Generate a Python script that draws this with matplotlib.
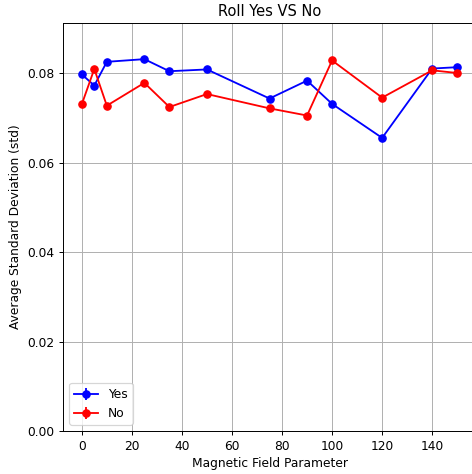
import matplotlib
matplotlib.use('Agg')
import matplotlib.pyplot as plt

# magnetic field parameter values
field = [0, 5, 10, 25, 35, 50, 75, 90, 100, 120, 140, 150]
# average std of roll, with and without
yes_std = [0.0797, 0.0772, 0.0825, 0.0831, 0.0804, 0.0808, 0.0743, 0.0783, 0.0731, 0.0655, 0.0810, 0.0813]
no_std = [0.0730, 0.0809, 0.0727, 0.0778, 0.0724, 0.0753, 0.0721, 0.0705, 0.0828, 0.0745, 0.0806, 0.0800]
yes_err = [0] * len(field)
no_err = [0] * len(field)

dpi = 88
fig = plt.figure(figsize=(472 / dpi, 474 / dpi), dpi=dpi)
ax = fig.add_axes([0.1335, 0.0907, 0.875, 0.861])

ax.errorbar(field, yes_std, yerr=yes_err, fmt='-o', color='blue', label='Yes')
ax.errorbar(field, no_std, yerr=no_err, fmt='-o', color='red', label='No')

ax.set_xlim(-7.5, 157.5)
ax.set_ylim(0, 0.0912)
ax.set_title('Roll Yes VS No')
ax.set_xlabel('Magnetic Field Parameter')
ax.set_ylabel('Average Standard Deviation (std)')
ax.grid(True)
ax.legend(loc='lower left')

fig.savefig('out.png', dpi=dpi)
